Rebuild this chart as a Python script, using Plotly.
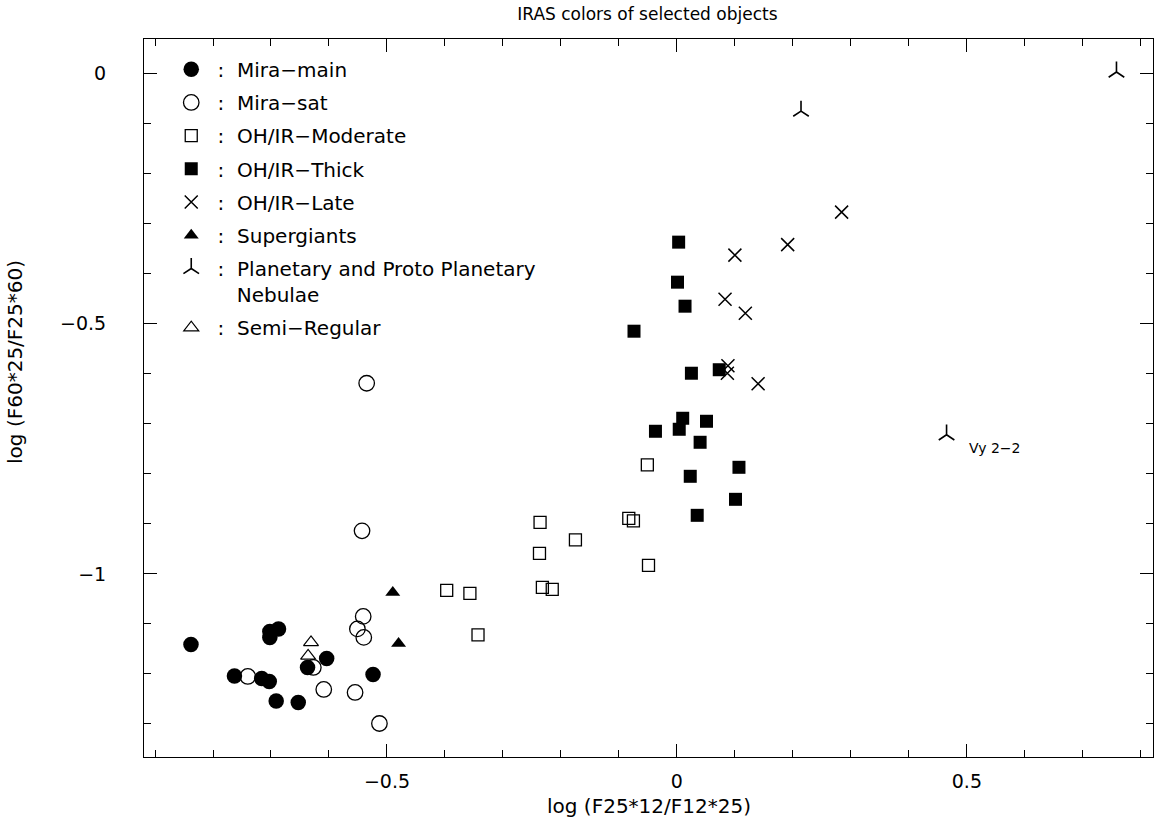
import plotly.graph_objects as go

# ---- data ----
mira_main_x = [-0.838, -0.763, -0.716, -0.703, -0.702, -0.702, -0.687, -0.691, -0.653, -0.637, -0.604, -0.524]
mira_main_y = [-1.141, -1.204, -1.209, -1.215, -1.115, -1.127, -1.110, -1.254, -1.257, -1.187, -1.169, -1.201]

mira_sat_x = [-0.740, -0.627, -0.609, -0.555, -0.541, -0.551, -0.540, -0.513, -0.543, -0.535]
mira_sat_y = [-1.205, -1.187, -1.231, -1.237, -1.085, -1.110, -1.127, -1.299, -0.914, -0.619]

oh_mod_x = [-0.397, -0.357, -0.343, -0.237, -0.232, -0.215, -0.236, -0.175, -0.083, -0.075, -0.051, -0.049]
oh_mod_y = [-1.033, -1.039, -1.122, -0.959, -1.027, -1.031, -0.897, -0.932, -0.889, -0.894, -0.782, -0.983]

oh_thick_x = [0.003, 0.001, 0.014, -0.074, 0.025, 0.073, 0.010, 0.051, -0.037, 0.004, 0.040, 0.107, 0.023, 0.101, 0.035]
oh_thick_y = [-0.337, -0.417, -0.465, -0.515, -0.599, -0.592, -0.689, -0.695, -0.715, -0.711, -0.737, -0.787, -0.805, -0.851, -0.883]

oh_late_x = [0.284, 0.191, 0.100, 0.083, 0.118, 0.088, 0.087, 0.140]
oh_late_y = [-0.277, -0.342, -0.363, -0.451, -0.479, -0.584, -0.599, -0.620]

super_x = [-0.490, -0.480]
super_y = [-1.037, -1.139]

pn_x = [0.214, 0.465, 0.758]
pn_y = [-0.075, -0.722, 0.003]

semireg_x = [-0.631, -0.636]
semireg_y = [-1.137, -1.164]

label_text = "Vy 2\u22122"
label_x = [0.50]
label_y = [-0.748]

FONT = "DejaVu Sans"
BLACK = "black"
SEP = "\u00a0:\u00a0\u00a0"

fig = go.Figure()

def add(name, x, y, symbol, size, lw=1.3, order=0):
    fig.add_trace(go.Scatter(
        x=x, y=y, mode="markers", name=name, legendgroup=name,
        legendrank=order,
        marker=dict(symbol=symbol, size=size, color=BLACK,
                    line=dict(color=BLACK, width=lw)),
        hoverinfo="x+y",
    ))

add(SEP + "Mira\u2212main", mira_main_x, mira_main_y, "circle", 15.5, 0, order=1)
add(SEP + "Mira\u2212sat", mira_sat_x, mira_sat_y, "circle-open", 15.5, 1.3, order=2)
add(SEP + "OH/IR\u2212Moderate", oh_mod_x, oh_mod_y, "square-open", 12, 1.3, order=3)
add(SEP + "OH/IR\u2212Thick", oh_thick_x, oh_thick_y, "square", 13, 0, order=4)
add(SEP + "OH/IR\u2212Late", oh_late_x, oh_late_y, "x-thin", 13, 1.5, order=5)
add(SEP + "Supergiants", super_x, super_y, "triangle-up", 13, 0, order=6)
add(SEP + "Planetary and Proto Planetary<br>\u00a0\u00a0\u00a0\u00a0Nebulae",
    pn_x, pn_y, "y-up", 13, 1.6, order=7)
add(SEP + "Semi\u2212Regular", semireg_x, semireg_y, "triangle-up-open", 13, 1.2, order=8)

fig.add_annotation(x=label_x[0], y=label_y[0], text=label_text, showarrow=False,
                   xanchor="left", yanchor="middle",
                   font=dict(family=FONT, size=14, color=BLACK))

# axis titles
fig.add_annotation(xref="paper", yref="paper", x=0.5, y=-0.068,
                   text="log (F25*12/F12*25)", showarrow=False,
                   xanchor="center", yanchor="middle",
                   font=dict(family=FONT, size=20, color=BLACK))
fig.add_annotation(xref="paper", yref="paper", x=-0.128, y=0.55,
                   text="log (F60*25/F25*60)", showarrow=False, textangle=-90,
                   xanchor="center", yanchor="middle",
                   font=dict(family=FONT, size=20, color=BLACK))

axis_common = dict(
    ticks="inside", ticklen=13, tickwidth=1, tickcolor=BLACK,
    showline=True, linecolor=BLACK, linewidth=1, mirror="allticks",
    showgrid=False, zeroline=False,
    tickfont=dict(family=FONT, size=19, color=BLACK),
    minor=dict(dtick=0.1, ticks="inside", ticklen=7, tickwidth=1,
               tickcolor=BLACK, showgrid=False),
)

fig.update_xaxes(range=[-0.919, 0.821], tick0=0, dtick=0.5,
                 ticklabelstandoff=7, **axis_common)
fig.update_yaxes(range=[-1.366, 0.069], tick0=0, dtick=0.5,
                 ticklabelstandoff=33, **axis_common)

fig.update_layout(
    width=1154, height=822,
    margin=dict(l=144, r=1, t=39, b=65),
    paper_bgcolor="white", plot_bgcolor="white",
    font=dict(family=FONT, color=BLACK),
    title=dict(text="IRAS colors of selected objects", x=0.561, xanchor="center",
               y=0.983, yanchor="middle",
               font=dict(family=FONT, size=17, color=BLACK)),
    showlegend=True,
    legend=dict(x=0.027, y=0.985, xanchor="left", yanchor="top",
                bgcolor="rgba(0,0,0,0)", borderwidth=0,
                font=dict(family=FONT, size=20, color=BLACK),
                tracegroupgap=4.2, valign="top", itemclick=False),
)

fig.write_html("out.html", config={"displayModeBar": False},
               post_script="document.body.style.margin='0';document.body.style.overflow='hidden';")
